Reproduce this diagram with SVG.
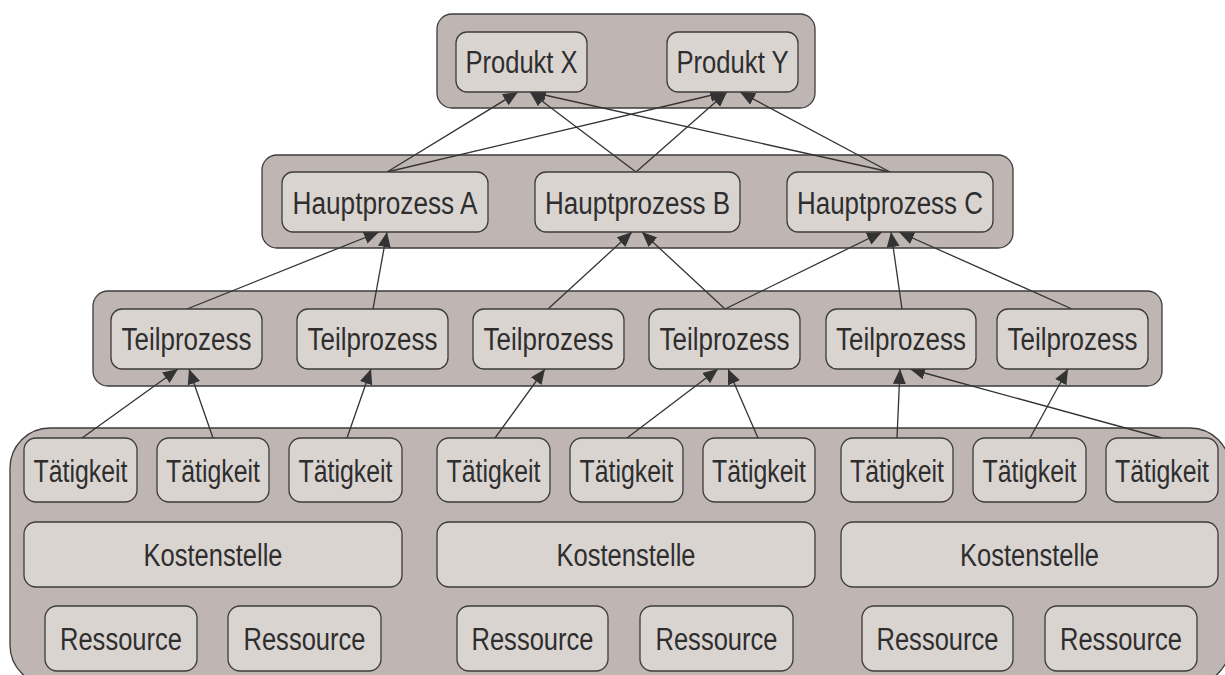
<svg xmlns="http://www.w3.org/2000/svg" width="1225" height="675" viewBox="0 0 1225 675">
<defs>
<style>
.cont{fill:#bfb5b2;stroke:#3c3c3c;stroke-width:1.3}
.box{fill:#dad4d1;stroke:#3c3c3c;stroke-width:1.3}
.lbl{font-family:"Liberation Sans",Arial,sans-serif;font-size:31px;fill:#2e2e2e;text-anchor:middle}
.edge{stroke:#333333;stroke-width:1.3;fill:none;marker-end:url(#arr)}
</style>
<marker id="arr" markerUnits="userSpaceOnUse" markerWidth="17" markerHeight="14" refX="15" refY="6.5" orient="auto">
<path d="M0,0 L15,6.5 L0,13 Z" fill="#333333"/>
</marker>
</defs>
<rect width="1225" height="675" fill="#ffffff"/>
<g id="containers">
<rect class="cont" x="437" y="14" width="378" height="94" rx="15"/>
<rect class="cont" x="262" y="155" width="751" height="93" rx="15"/>
<rect class="cont" x="93" y="291" width="1069" height="95" rx="15"/>
<rect class="cont" x="10" y="428" width="1220" height="257" rx="40"/>
</g>
<g id="connectors">
<line class="edge" x1="387" y1="172" x2="518" y2="92"/>
<line class="edge" x1="387" y1="172" x2="725" y2="92"/>
<line class="edge" x1="636" y1="172" x2="530" y2="92"/>
<line class="edge" x1="636" y1="172" x2="727" y2="92"/>
<line class="edge" x1="890" y1="172" x2="531" y2="92"/>
<line class="edge" x1="890" y1="172" x2="740" y2="92"/>
<line class="edge" x1="187" y1="309" x2="379" y2="232"/>
<line class="edge" x1="373" y1="309" x2="387" y2="232"/>
<line class="edge" x1="548" y1="309" x2="632" y2="232"/>
<line class="edge" x1="725" y1="309" x2="642" y2="232"/>
<line class="edge" x1="725" y1="309" x2="882" y2="232"/>
<line class="edge" x1="902" y1="309" x2="891" y2="232"/>
<line class="edge" x1="1072" y1="309" x2="899" y2="232"/>
<line class="edge" x1="82" y1="438" x2="178" y2="369"/>
<line class="edge" x1="213" y1="438" x2="189" y2="369"/>
<line class="edge" x1="347" y1="438" x2="371" y2="369"/>
<line class="edge" x1="495" y1="438" x2="545" y2="369"/>
<line class="edge" x1="627" y1="438" x2="718" y2="369"/>
<line class="edge" x1="758" y1="438" x2="728" y2="369"/>
<line class="edge" x1="897" y1="438" x2="900" y2="369"/>
<line class="edge" x1="1162" y1="438" x2="910" y2="369"/>
<line class="edge" x1="1030" y1="438" x2="1068" y2="369"/>
</g>
<g id="produkt-x"><rect class="box" x="456" y="32" width="131" height="60" rx="11"/><text class="lbl" x="521.5" y="73" textLength="112" lengthAdjust="spacingAndGlyphs">Produkt X</text></g>
<g id="produkt-y"><rect class="box" x="667" y="32" width="131" height="60" rx="11"/><text class="lbl" x="732.5" y="73" textLength="112" lengthAdjust="spacingAndGlyphs">Produkt Y</text></g>
<g id="haupt-a"><rect class="box" x="282" y="172" width="206" height="60" rx="11"/><text class="lbl" x="385" y="214" textLength="185" lengthAdjust="spacingAndGlyphs">Hauptprozess A</text></g>
<g id="haupt-b"><rect class="box" x="535" y="172" width="205" height="60" rx="11"/><text class="lbl" x="637.5" y="214" textLength="185" lengthAdjust="spacingAndGlyphs">Hauptprozess B</text></g>
<g id="haupt-c"><rect class="box" x="787" y="172" width="206" height="60" rx="11"/><text class="lbl" x="890" y="214" textLength="186" lengthAdjust="spacingAndGlyphs">Hauptprozess C</text></g>
<g id="teil-1"><rect class="box" x="111" y="309" width="151" height="60" rx="11"/><text class="lbl" x="186.5" y="350" textLength="130" lengthAdjust="spacingAndGlyphs">Teilprozess</text></g>
<g id="teil-2"><rect class="box" x="297" y="309" width="151" height="60" rx="11"/><text class="lbl" x="372.5" y="350" textLength="130" lengthAdjust="spacingAndGlyphs">Teilprozess</text></g>
<g id="teil-3"><rect class="box" x="473" y="309" width="151" height="60" rx="11"/><text class="lbl" x="548.5" y="350" textLength="130" lengthAdjust="spacingAndGlyphs">Teilprozess</text></g>
<g id="teil-4"><rect class="box" x="649" y="309" width="151" height="60" rx="11"/><text class="lbl" x="724.5" y="350" textLength="130" lengthAdjust="spacingAndGlyphs">Teilprozess</text></g>
<g id="teil-5"><rect class="box" x="826" y="309" width="150" height="60" rx="11"/><text class="lbl" x="901" y="350" textLength="130" lengthAdjust="spacingAndGlyphs">Teilprozess</text></g>
<g id="teil-6"><rect class="box" x="997" y="309" width="151" height="60" rx="11"/><text class="lbl" x="1072.5" y="350" textLength="130" lengthAdjust="spacingAndGlyphs">Teilprozess</text></g>
<g id="taet-1"><rect class="box" x="24" y="438" width="113" height="64" rx="12"/><text class="lbl" x="80.5" y="482" textLength="94" lengthAdjust="spacingAndGlyphs">Tätigkeit</text></g>
<g id="taet-2"><rect class="box" x="157" y="438" width="112" height="64" rx="12"/><text class="lbl" x="213" y="482" textLength="94" lengthAdjust="spacingAndGlyphs">Tätigkeit</text></g>
<g id="taet-3"><rect class="box" x="289" y="438" width="113" height="64" rx="12"/><text class="lbl" x="345.5" y="482" textLength="94" lengthAdjust="spacingAndGlyphs">Tätigkeit</text></g>
<g id="taet-4"><rect class="box" x="437" y="438" width="113" height="64" rx="12"/><text class="lbl" x="493.5" y="482" textLength="94" lengthAdjust="spacingAndGlyphs">Tätigkeit</text></g>
<g id="taet-5"><rect class="box" x="570" y="438" width="113" height="64" rx="12"/><text class="lbl" x="626.5" y="482" textLength="94" lengthAdjust="spacingAndGlyphs">Tätigkeit</text></g>
<g id="taet-6"><rect class="box" x="703" y="438" width="112" height="64" rx="12"/><text class="lbl" x="759" y="482" textLength="94" lengthAdjust="spacingAndGlyphs">Tätigkeit</text></g>
<g id="taet-7"><rect class="box" x="841" y="438" width="112" height="64" rx="12"/><text class="lbl" x="897" y="482" textLength="94" lengthAdjust="spacingAndGlyphs">Tätigkeit</text></g>
<g id="taet-8"><rect class="box" x="973" y="438" width="113" height="64" rx="12"/><text class="lbl" x="1029.5" y="482" textLength="94" lengthAdjust="spacingAndGlyphs">Tätigkeit</text></g>
<g id="taet-9"><rect class="box" x="1106" y="438" width="112" height="64" rx="12"/><text class="lbl" x="1162" y="482" textLength="94" lengthAdjust="spacingAndGlyphs">Tätigkeit</text></g>
<g id="kosten-1"><rect class="box" x="24" y="522" width="378" height="65" rx="12"/><text class="lbl" x="213" y="566" textLength="139" lengthAdjust="spacingAndGlyphs">Kostenstelle</text></g>
<g id="kosten-2"><rect class="box" x="437" y="522" width="378" height="65" rx="12"/><text class="lbl" x="626" y="566" textLength="139" lengthAdjust="spacingAndGlyphs">Kostenstelle</text></g>
<g id="kosten-3"><rect class="box" x="841" y="522" width="377" height="65" rx="12"/><text class="lbl" x="1029.5" y="566" textLength="139" lengthAdjust="spacingAndGlyphs">Kostenstelle</text></g>
<g id="ress-1"><rect class="box" x="45" y="606" width="152" height="65" rx="12"/><text class="lbl" x="121" y="650" textLength="122" lengthAdjust="spacingAndGlyphs">Ressource</text></g>
<g id="ress-2"><rect class="box" x="228" y="606" width="153" height="65" rx="12"/><text class="lbl" x="304.5" y="650" textLength="122" lengthAdjust="spacingAndGlyphs">Ressource</text></g>
<g id="ress-3"><rect class="box" x="457" y="606" width="151" height="65" rx="12"/><text class="lbl" x="532.5" y="650" textLength="122" lengthAdjust="spacingAndGlyphs">Ressource</text></g>
<g id="ress-4"><rect class="box" x="640" y="606" width="153" height="65" rx="12"/><text class="lbl" x="716.5" y="650" textLength="122" lengthAdjust="spacingAndGlyphs">Ressource</text></g>
<g id="ress-5"><rect class="box" x="862" y="606" width="151" height="65" rx="12"/><text class="lbl" x="937.5" y="650" textLength="122" lengthAdjust="spacingAndGlyphs">Ressource</text></g>
<g id="ress-6"><rect class="box" x="1045" y="606" width="152" height="65" rx="12"/><text class="lbl" x="1121" y="650" textLength="122" lengthAdjust="spacingAndGlyphs">Ressource</text></g>
</svg>
